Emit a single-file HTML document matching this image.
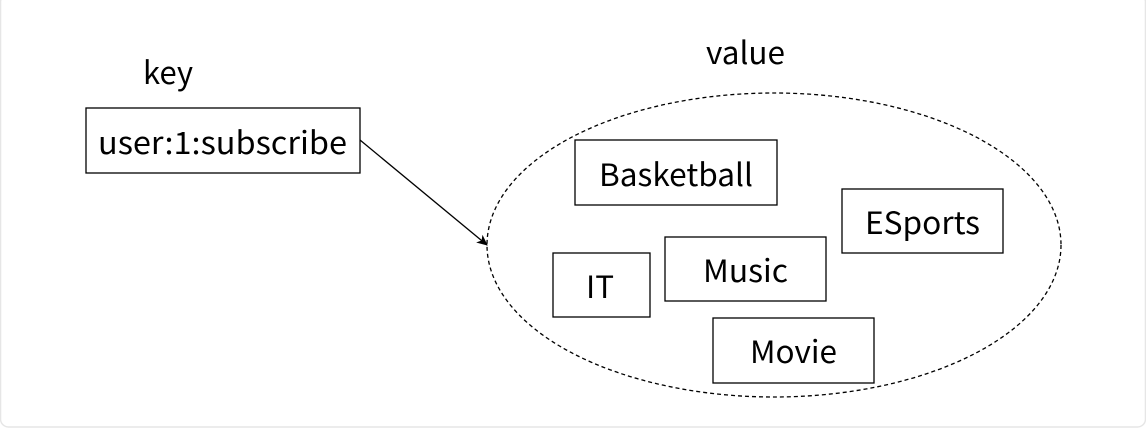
<!DOCTYPE html>
<html><head><meta charset="utf-8"><style>
html,body{margin:0;padding:0;background:#fff;}
svg{display:block;}
text{font-family:"Noto Sans CJK SC","Liberation Sans",sans-serif;font-size:31px;fill:#000;}
</style></head><body>
<svg width="1146" height="429" viewBox="0 0 1146 429">
<defs><marker id="a" markerWidth="12" markerHeight="12" refX="10" refY="6" orient="auto" markerUnits="userSpaceOnUse"><path d="M0,1 L11,6 L0,11 L3,6 Z" fill="#000"/></marker></defs>
<rect x="0.5" y="-6" width="1145" height="433" rx="8" fill="#fff" stroke="#e6e6e6" stroke-width="1.5"/>
<text x="143" y="84" textLength="50" lengthAdjust="spacingAndGlyphs">key</text>
<text x="706" y="64" textLength="79" lengthAdjust="spacingAndGlyphs">value</text>
<rect x="86" y="108" width="274" height="65" fill="#fff" stroke="#000" stroke-width="1.3"/>
<text x="98" y="154" textLength="249" lengthAdjust="spacingAndGlyphs">user:1:subscribe</text>
<line x1="360" y1="140" x2="487" y2="245" stroke="#000" stroke-width="1.3" marker-end="url(#a)"/>
<ellipse cx="774" cy="245" rx="287" ry="152" fill="none" stroke="#000" stroke-width="1.3" stroke-dasharray="4,3"/>
<rect x="575" y="140" width="202" height="65" fill="#fff" stroke="#000" stroke-width="1.3"/>
<text x="599" y="186" textLength="154" lengthAdjust="spacingAndGlyphs">Basketball</text>
<rect x="842" y="189" width="161" height="64" fill="#fff" stroke="#000" stroke-width="1.3"/>
<text x="865" y="234" textLength="115" lengthAdjust="spacingAndGlyphs">ESports</text>
<rect x="553" y="253" width="97" height="64" fill="#fff" stroke="#000" stroke-width="1.3"/>
<text x="586" y="298" textLength="28" lengthAdjust="spacingAndGlyphs">IT</text>
<rect x="665" y="237" width="161" height="64" fill="#fff" stroke="#000" stroke-width="1.3"/>
<text x="703" y="282" textLength="85" lengthAdjust="spacingAndGlyphs">Music</text>
<rect x="713" y="318" width="161" height="65" fill="#fff" stroke="#000" stroke-width="1.3"/>
<text x="750" y="363" textLength="87" lengthAdjust="spacingAndGlyphs">Movie</text>
</svg>
</body></html>
